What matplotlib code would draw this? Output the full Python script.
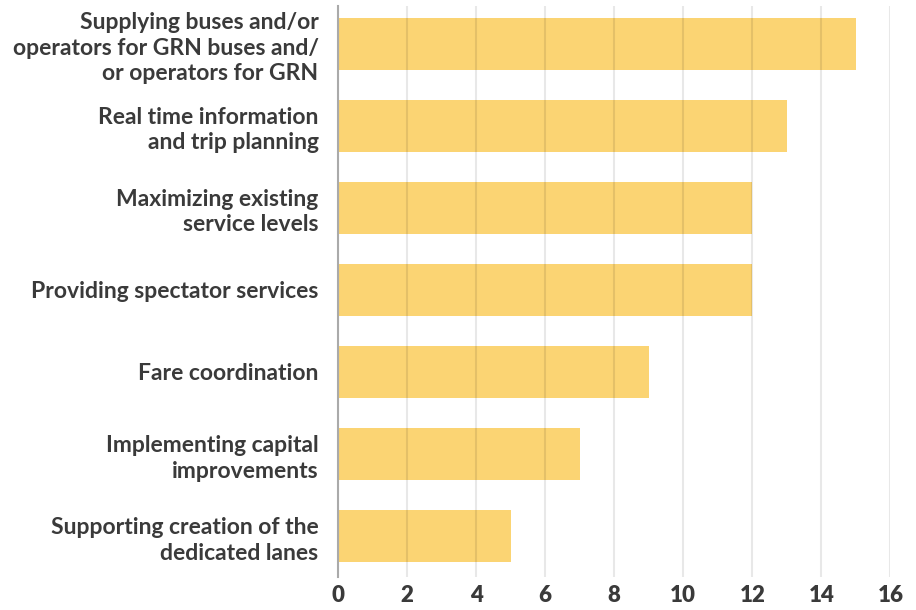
import matplotlib.pyplot as plt

# data
categories = [
    "Supplying buses and/or\noperators for GRN buses and/\nor operators for GRN",
    "Real time information\nand trip planning",
    "Maximizing existing\nservice levels",
    "Providing spectator services",
    "Fare coordination",
    "Implementing capital\nimprovements",
    "Supporting creation of the\ndedicated lanes",
]
values = [15, 13, 12, 12, 9, 7, 5]
xticks = [0, 2, 4, 6, 8, 10, 12, 14, 16]

plt.rcParams['font.family'] = ['Lato', 'DejaVu Sans']

fig = plt.figure(figsize=(9.16, 6.10), dpi=100)
ax = fig.add_axes([0.369, 0.054, 0.6031, 0.936])

pos = list(range(len(categories)))
ax.barh(pos, values, height=0.64, color='#fbd473', zorder=1)
ax.set_ylim(len(categories) - 0.5, -0.46)
ax.set_xlim(0, 16)

ax.set_xticks(xticks)
ax.set_xticklabels([str(t) for t in xticks], fontsize=16, fontweight='heavy', color='#3a3a3a')
ax.set_yticks(pos)
ax.set_yticklabels(categories, fontsize=16.5, fontweight='bold', color='#3a3a3a', linespacing=1.27)
ax.tick_params(axis='both', length=0)
ax.tick_params(axis='x', pad=6)
ax.tick_params(axis='y', pad=14)

ax.grid(axis='x', color='#000000', alpha=0.09, linewidth=1.5, zorder=3)
ax.set_axisbelow(False)
for s in ['top', 'right', 'bottom']:
    ax.spines[s].set_visible(False)
ax.spines['left'].set_color('#aaaaaa')
ax.spines['left'].set_linewidth(1.5)
ax.spines['left'].set_zorder(4)

fig.savefig('out.png', dpi=100)
